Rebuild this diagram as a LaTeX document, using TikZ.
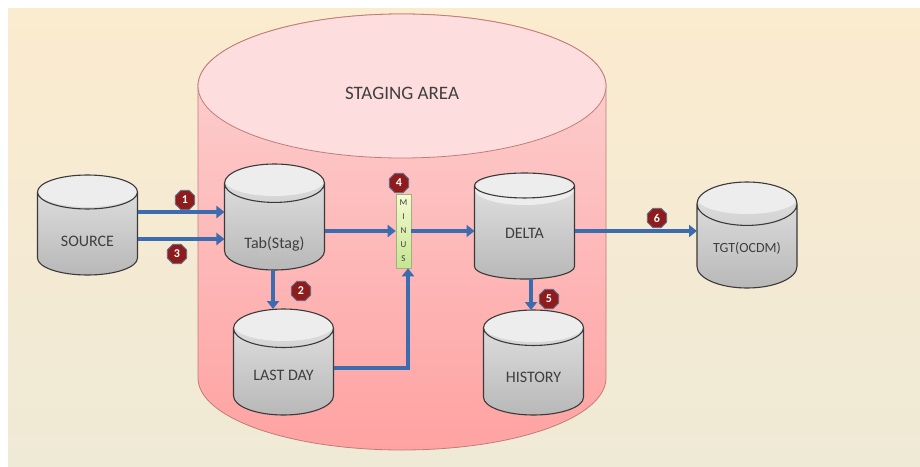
\documentclass[tikz,border=0pt]{standalone}
\usepackage{fontspec}
\setmainfont{Carlito}
\usetikzlibrary{shapes.geometric,arrows.meta,calc}
\definecolor{bgtop}{HTML}{FBEBCF}
\definecolor{bgbot}{HTML}{EFEAD6}
\definecolor{pinkcap}{HTML}{FDDDDD}
\definecolor{pinktop}{HTML}{FCD3D3}
\definecolor{pinkbot}{HTML}{FFA2A2}
\definecolor{pinkline}{HTML}{C27C78}
\definecolor{cylcap}{HTML}{EDEDED}
\definecolor{cyltop}{HTML}{E4E4E4}
\definecolor{cylbot}{HTML}{B8B8B8}
\definecolor{cyledge}{HTML}{3A3A3A}
\definecolor{flowc}{HTML}{3B6CB0}
\definecolor{badgec}{HTML}{8E1C1C}
\definecolor{badgeedge}{HTML}{5B6F8F}
\definecolor{txt}{HTML}{3F3F3F}
\definecolor{minustop}{HTML}{F5FAD0}
\definecolor{minusbot}{HTML}{C6E592}
\definecolor{minusedge}{HTML}{9CB47C}
\newcommand{\dblabel}[2]{\raisebox{-#1}[0.7em][0.2em]{#2}}
\tikzset{
  dbnode/.style={cylinder, shape border rotate=90, aspect=0.64,
    minimum width=100pt, minimum height=104pt, inner sep=0pt, outer sep=0pt,
    draw=cyledge, line width=1.1pt, top color=cyltop, bottom color=cylbot,
    text=txt, font=\fontsize{16}{19}\selectfont,
    path picture={\fill[cylcap] ([yshift=-16pt]path picture bounding box.north)
      ellipse [x radius=50pt, y radius=16pt];}},
  stagebody/.style={top color=pinktop, bottom color=pinkbot, draw=pinkline, line width=0.8pt},
  stagecap/.style={fill=pinkcap, draw=pinkline, line width=0.8pt},
  flow/.style={draw=flowc, line width=4.5pt, line join=miter,
    -{Triangle[length=8pt,width=12pt]}},
  badge/.style={regular polygon, regular polygon sides=8, minimum size=21pt,
    inner sep=0pt, fill=badgec, draw=badgeedge, line width=0.8pt,
    text=white, font=\bfseries\fontsize{12}{12}\selectfont},
  minusbar/.style={rectangle, minimum width=15pt, minimum height=74pt,
    inner sep=0pt, top color=minustop, bottom color=minusbot, draw=minusedge,
    line width=0.6pt, text=txt, align=center,
    font=\fontsize{9}{14}\selectfont}
}
\begin{document}
\begin{tikzpicture}[x=1pt,y=-1pt]
\useasboundingbox (0,0) rectangle (920,466);
\fill[white] (0,0) rectangle (920,466);
\shade[top color=bgtop, bottom color=bgbot] (8,8) rectangle (920,466);

% staging area (container cylinder)
\shade[stagebody] (198,86) -- (198,378)
  arc[start angle=180, end angle=360, x radius=204pt, y radius=72pt]
  -- (606,86)
  arc[start angle=0, end angle=180, x radius=204pt, y radius=72pt] -- cycle;
\filldraw[stagecap] (402,86) ellipse[x radius=204pt, y radius=72pt];
\node[text=txt, font=\fontsize{19}{22}\selectfont] (stagelabel) at (402,93) {STAGING AREA};

% databases
\node[dbnode, minimum height=100pt, anchor=shape center] (source) at (87.5,225) {\dblabel{9pt}{SOURCE}};
\node[dbnode, minimum height=106pt, anchor=shape center] (tab) at (274.5,217) {\dblabel{18pt}{Tab(Stag)}};
\node[dbnode, minimum height=106pt, anchor=shape center] (lastday) at (283.5,362) {\dblabel{5pt}{LAST DAY}};
\node[dbnode, minimum height=106pt, anchor=shape center] (delta) at (524.5,226) {\dblabel{2pt}{DELTA}};
\node[dbnode, minimum height=105pt, anchor=shape center] (history) at (533.5,362.5) {\dblabel{7pt}{HISTORY}};
\node[dbnode, minimum height=106pt, anchor=shape center, font=\fontsize{14}{17}\selectfont] (tgt) at (747,235) {\dblabel{3pt}{TGT(OCDM)}};

% minus
\node[minusbar] (minus) at (403.5,231) {M\\I\\N\\U\\S};

% connector start points
\coordinate (s1) at ([shift={(50pt,13pt)}]source.shape center);
\coordinate (s3) at ([shift={(50pt,-14pt)}]source.shape center);
\coordinate (ld) at ([shift={(50pt,-6pt)}]lastday.shape center);
\coordinate (tb) at ([xshift=-1.5pt]tab.south);
\coordinate (db) at ([xshift=6.5pt]delta.south);
\coordinate (mb) at ([xshift=4.5pt]minus.south);

% connectors
\draw[flow] (s1) -- (s1 -| tab.west);
\draw[flow] (s3) -- (s3 -| tab.west);
\draw[flow] (tab.east |- minus.west) -- (minus.west);
\draw[flow] (minus.east) -- (minus.east -| delta.west);
\draw[flow] (delta.east |- minus.east) -- (tgt.west |- minus.east);
\draw[flow] (tb) -- (tb |- lastday.north);
\draw[flow] (db) -- (db |- history.north);
\draw[flow] (ld) -| (mb);

% step badges
\node[badge] (b1) at (185,200) {1};
\node[badge] (b2) at (301,291) {2};
\node[badge] (b3) at (177,254) {3};
\node[badge] (b4) at (399,183) {4};
\node[badge] (b5) at (549,299) {5};
\node[badge] (b6) at (657,218) {6};
\end{tikzpicture}
\end{document}
